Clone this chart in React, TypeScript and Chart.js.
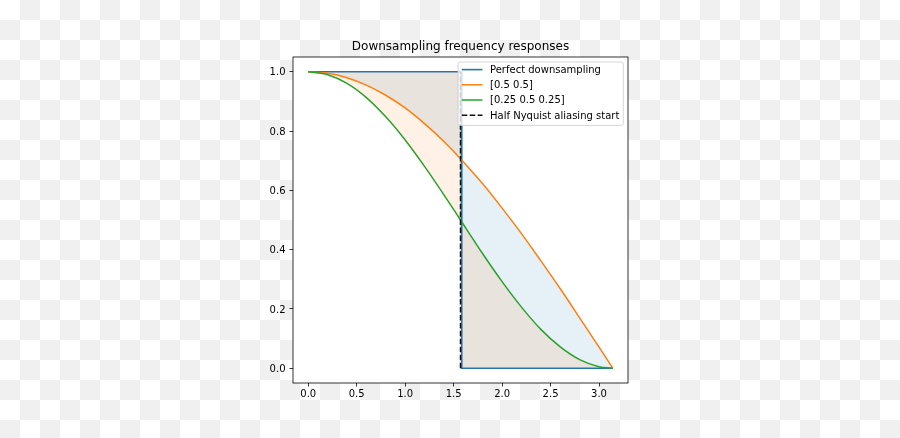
import React, { useEffect, useRef } from "react";
import { Chart, registerables } from "chart.js";

Chart.register(...registerables);

// ---- data ----
const TITLE = "Downsampling frequency responses";
const SERIES_LABELS = [
  "Perfect downsampling",
  "[0.5 0.5]",
  "[0.25 0.5 0.25]",
  "Half Nyquist aliasing start",
];
const FREQ = [0, 0.2, 0.4, 0.6, 0.8, 1.0, 1.2, 1.4, 1.571, 1.8, 2.0, 2.2, 2.4, 2.6, 2.8, 3.0, 3.142];
const RESP_TWO_TAP = [1, 0.995, 0.98, 0.955, 0.921, 0.878, 0.825, 0.765, 0.707, 0.622, 0.54, 0.454, 0.362, 0.268, 0.17, 0.071, 0];
const RESP_THREE_TAP = [1, 0.99, 0.961, 0.913, 0.848, 0.77, 0.681, 0.585, 0.5, 0.386, 0.292, 0.206, 0.131, 0.072, 0.029, 0.005, 0];
const PERFECT_FREQ = [0, 1.578, 1.584, 3.142];
const PERFECT_RESP = [1, 1, 0, 0];
const NYQUIST_FREQ = [1.571, 1.571];
const NYQUIST_RESP = [0, 1];
const X_TICKS = [0, 0.5, 1.0, 1.5, 2.0, 2.5, 3.0];
const X_TICK_LABELS = ["0.0", "0.5", "1.0", "1.5", "2.0", "2.5", "3.0"];
const Y_TICKS = [0, 0.2, 0.4, 0.6, 0.8, 1.0];
const Y_TICK_LABELS = ["0.0", "0.2", "0.4", "0.6", "0.8", "1.0"];

const FONT = '"DejaVu Sans", "Liberation Sans", sans-serif';
const C0 = "#1f77b4";
const C1 = "#ff7f0e";
const C2 = "#2ca02c";

const pts = (xs: number[], ys: number[]) => xs.map((x, i) => ({ x, y: ys[i] }));

const axesBgPlugin = {
  id: "axesBg",
  beforeDraw(chart: any) {
    const { ctx, chartArea: a } = chart;
    ctx.save();
    ctx.fillStyle = "#ffffff";
    ctx.fillRect(a.left, a.top, a.right - a.left, a.bottom - a.top);
    ctx.restore();
  },
};

const framePlugin = {
  id: "frame",
  afterDatasetsDraw(chart: any) {
    const { ctx, chartArea: a } = chart;
    ctx.save();
    ctx.strokeStyle = "#000";
    ctx.lineWidth = 0.8;
    ctx.strokeRect(a.left, a.top, a.right - a.left, a.bottom - a.top);
    // title
    ctx.fillStyle = "#000";
    ctx.font = `12px ${FONT}`;
    ctx.textAlign = "center";
    ctx.textBaseline = "alphabetic";
    ctx.fillText(TITLE, (a.left + a.right) / 2, a.top - 7);
    ctx.restore();
  },
};

const legendPlugin = {
  id: "mplLegend",
  afterDraw(chart: any) {
    const { ctx, chartArea: a } = chart;
    const ds = chart.data.datasets;
    ctx.save();
    ctx.font = `10px ${FONT}`;
    const tw = Math.max(...ds.map((d: any) => ctx.measureText(d.label).width));
    const w = 4 + 20 + 8 + tw + 4;
    const h = 63.4;
    const x0 = a.right - 4.7 - w;
    const y0 = a.top + 5;
    ctx.beginPath();
    if ((ctx as any).roundRect) (ctx as any).roundRect(x0, y0, w, h, 2);
    else ctx.rect(x0, y0, w, h);
    ctx.fillStyle = "rgba(255,255,255,0.8)";
    ctx.fill();
    ctx.strokeStyle = "rgba(204,204,204,0.8)";
    ctx.lineWidth = 1;
    ctx.stroke();
    ds.forEach((d: any, i: number) => {
      const cy = y0 + 7.6 + i * 15.2;
      ctx.beginPath();
      ctx.strokeStyle = d.borderColor;
      ctx.lineWidth = d.borderWidth;
      ctx.setLineDash(d.borderDash || []);
      ctx.moveTo(x0 + 3.7, cy);
      ctx.lineTo(x0 + 24.4, cy);
      ctx.stroke();
      ctx.setLineDash([]);
      ctx.fillStyle = "#000";
      ctx.textAlign = "left";
      ctx.textBaseline = "middle";
      ctx.fillText(d.label, x0 + 32, cy + 0.8);
    });
    ctx.restore();
  },
};

export default function App() {
  const ref = useRef<HTMLCanvasElement>(null);

  useEffect(() => {
    if (!ref.current) return;
    const tickFont = { family: FONT, size: 10 };
    const chart = new Chart(ref.current, {
      type: "line",
      data: {
        datasets: [
          {
            label: SERIES_LABELS[0],
            data: pts(PERFECT_FREQ, PERFECT_RESP),
            borderColor: C0,
            borderWidth: 1.6,
            fill: false,
            pointRadius: 0,
            order: 4,
          },
          {
            label: SERIES_LABELS[1],
            data: pts(FREQ, RESP_TWO_TAP),
            borderColor: C1,
            borderWidth: 1.5,
            backgroundColor: "rgba(31,119,180,0.11)",
            fill: { target: 0 },
            cubicInterpolationMode: "monotone",
            pointRadius: 0,
            order: 3,
          },
          {
            label: SERIES_LABELS[2],
            data: pts(FREQ, RESP_THREE_TAP),
            borderColor: C2,
            borderWidth: 1.5,
            backgroundColor: "rgba(255,127,14,0.11)",
            fill: { target: 0 },
            cubicInterpolationMode: "monotone",
            pointRadius: 0,
            order: 2,
          },
          {
            label: SERIES_LABELS[3],
            data: pts(NYQUIST_FREQ, NYQUIST_RESP),
            borderColor: "#111",
            borderWidth: 1.5,
            borderDash: [5.55, 2.4],
            fill: false,
            pointRadius: 0,
            order: 1,
          },
        ] as any,
      },
      options: {
        animation: false,
        responsive: false,
        events: [],
        layout: { padding: { left: 243, right: 272, top: 57, bottom: 25 } },
        plugins: {
          legend: { display: false },
          title: { display: false },
          tooltip: { enabled: false },
        },
        scales: {
          x: {
            type: "linear",
            min: -0.157,
            max: 3.299,
            afterBuildTicks: (s: any) => {
              s.ticks = X_TICKS.map((v) => ({ value: v }));
            },
            afterFit: (s: any) => {
              s.height = 30;
            },
            ticks: {
              callback: (_v: any, i: number) => X_TICK_LABELS[i],
              font: tickFont,
              color: "#000",
              padding: 2,
              maxRotation: 0,
              autoSkip: false,
            },
            grid: {
              display: true,
              drawOnChartArea: false,
              drawTicks: true,
              tickLength: 3.5,
              tickWidth: 0.8,
              tickColor: "#000",
            },
            border: { display: false },
          },
          y: {
            type: "linear",
            min: -0.05,
            max: 1.05,
            afterBuildTicks: (s: any) => {
              s.ticks = Y_TICKS.map((v) => ({ value: v }));
            },
            afterFit: (s: any) => {
              s.width = 50;
            },
            ticks: {
              callback: (_v: any, i: number) => Y_TICK_LABELS[i],
              font: tickFont,
              color: "#000",
              padding: 4,
              labelOffset: 1,
              autoSkip: false,
            },
            grid: {
              display: true,
              drawOnChartArea: false,
              drawTicks: true,
              tickLength: 3.5,
              tickWidth: 0.8,
              tickColor: "#000",
            },
            border: { display: false },
          },
        },
      } as any,
      plugins: [axesBgPlugin, framePlugin, legendPlugin],
    });
    return () => chart.destroy();
  }, []);

  return (
    <div
      style={{
        position: "absolute",
        left: 0,
        top: 0,
        width: 900,
        height: 438,
        backgroundColor: "#ffffff",
        backgroundImage: "repeating-conic-gradient(#f0f0f0 0 25%, #ffffff 0 50%)",
        backgroundSize: "40px 40px",
      }}
    >
      <canvas ref={ref} width={900} height={438} style={{ display: "block" }} />
    </div>
  );
}
